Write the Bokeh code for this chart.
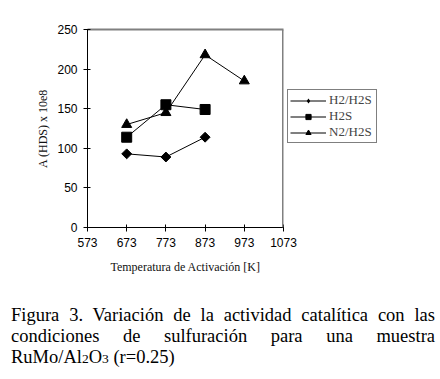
from bokeh.plotting import figure
from bokeh.models import LinearAxis, Legend, LegendItem, Div, FixedTicker, Range1d, Span
from bokeh.layouts import column
from bokeh.embed import file_html
from bokeh.resources import INLINE

# Data
x_h2_h2s = [673, 773, 873]
y_h2_h2s = [93, 89, 114]
x_h2s = [673, 773, 873]
y_h2s = [114, 155, 149]
x_n2_h2s = [673, 773, 873, 973]
y_n2_h2s = [130, 145, 218, 185]
x_ticks = [573, 673, 773, 873, 973, 1073]
y_ticks = [0, 50, 100, 150, 200, 250]
series_names = ["H2/H2S", "H2S", "N2/H2S"]

p = figure(frame_width=196, frame_height=198,
           min_border_left=87, min_border_right=145, min_border_top=29, min_border_bottom=78,
           x_range=Range1d(573, 1073), y_range=Range1d(0, 250),
           output_backend="svg", toolbar_location=None)
p.outline_line_color = None
p.xgrid.visible = False
p.ygrid.visible = False
p.background_fill_color = "white"
p.border_fill_color = "white"

for ax, ticks in ((p.xaxis[0], x_ticks), (p.yaxis[0], y_ticks)):
    ax.ticker = FixedTicker(ticks=ticks)
    ax.axis_line_color = "black"
    ax.axis_line_width = 1
    ax.major_tick_line_color = "black"
    ax.major_tick_in = 3
    ax.major_tick_out = 4
    ax.minor_tick_line_color = None
    ax.major_label_text_font = "Liberation Sans"
    ax.major_label_text_font_size = "12px"
    ax.major_label_text_color = "black"
    ax.major_label_standoff = 6
    ax.axis_label_text_font = "Liberation Serif"
    ax.axis_label_text_font_size = "12px"
    ax.axis_label_text_font_style = "normal"
    ax.axis_label_text_color = "#111111"

p.xaxis[0].axis_label = "Temperatura de Activación [K]"
p.xaxis[0].axis_label_standoff = 10
p.yaxis[0].axis_label = "A (HDS) x 10e8"
p.yaxis[0].axis_label_standoff = 4

top_ax = LinearAxis(ticker=FixedTicker(ticks=[]), axis_line_color="#808080", axis_line_width=2,
                    major_tick_line_color=None, minor_tick_line_color=None)
p.add_layout(top_ax, "above")
p.add_layout(Span(location=x_ticks[-1], dimension="height", line_color="#808080", line_width=3))

l1 = p.line(x_h2_h2s, y_h2_h2s, line_color="black", line_width=1)
m1 = p.scatter(x_h2_h2s, y_h2_h2s, marker="square", angle=0.785398, size=7,
               fill_color="black", line_color="black")
# diamond glyph for the legend (legend glyphs are drawn unrotated); zero size in the plot
m1_leg = p.scatter(x_h2_h2s, y_h2_h2s, marker="diamond", size=0,
                   fill_color="black", line_color="black", line_width=0)
l2 = p.line(x_h2s, y_h2s, line_color="black", line_width=1)
m2 = p.scatter(x_h2s, y_h2s, marker="square", size=10, fill_color="black", line_color="black")
l3 = p.line(x_n2_h2s, y_n2_h2s, line_color="black", line_width=1)
m3 = p.scatter(x_n2_h2s, y_n2_h2s, marker="triangle", size=10, fill_color="black", line_color="black")

legend = Legend(items=[LegendItem(label=series_names[0], renderers=[l1, m1_leg]),
                       LegendItem(label=series_names[1], renderers=[l2, m2]),
                       LegendItem(label=series_names[2], renderers=[l3, m3])],
                location=(4, 84), orientation="vertical",
                label_text_font="Liberation Serif", label_text_font_size="13px",
                label_height=13, glyph_height=13, glyph_width=36, spacing=0,
                padding=2, margin=0, label_standoff=3, label_width=45,
                border_line_color="black", border_line_width=1,
                background_fill_color="white", background_fill_alpha=1)
p.add_layout(legend, "right")

base = ("font-family:'Liberation Serif';font-size:18.5px;line-height:21px;height:21px;"
        "color:black;margin:0;")
caption = Div(text=(
    "<div style=\"box-sizing:border-box;width:435px;padding-left:11px;margin:0;\">"
    "<div style=\"" + base + "text-align:justify;text-align-last:justify;\">"
    "Figura 3. Variación de la actividad catalítica con las</div>"
    "<div style=\"" + base + "text-align:justify;text-align-last:justify;\">"
    "condiciones de sulfuración para una muestra</div>"
    "<div style=\"" + base + "white-space:nowrap;\">"
    "RuMo/Al<span style=\"font-size:13.5px;\">2</span>O<span style=\"font-size:13.5px;\">3</span> (r=0.25)</div>"
    "</div>"), width=436, height=70, margin=0)

layout = column(p, caption, spacing=0)
open("out.html", "w").write(file_html(layout, INLINE))
